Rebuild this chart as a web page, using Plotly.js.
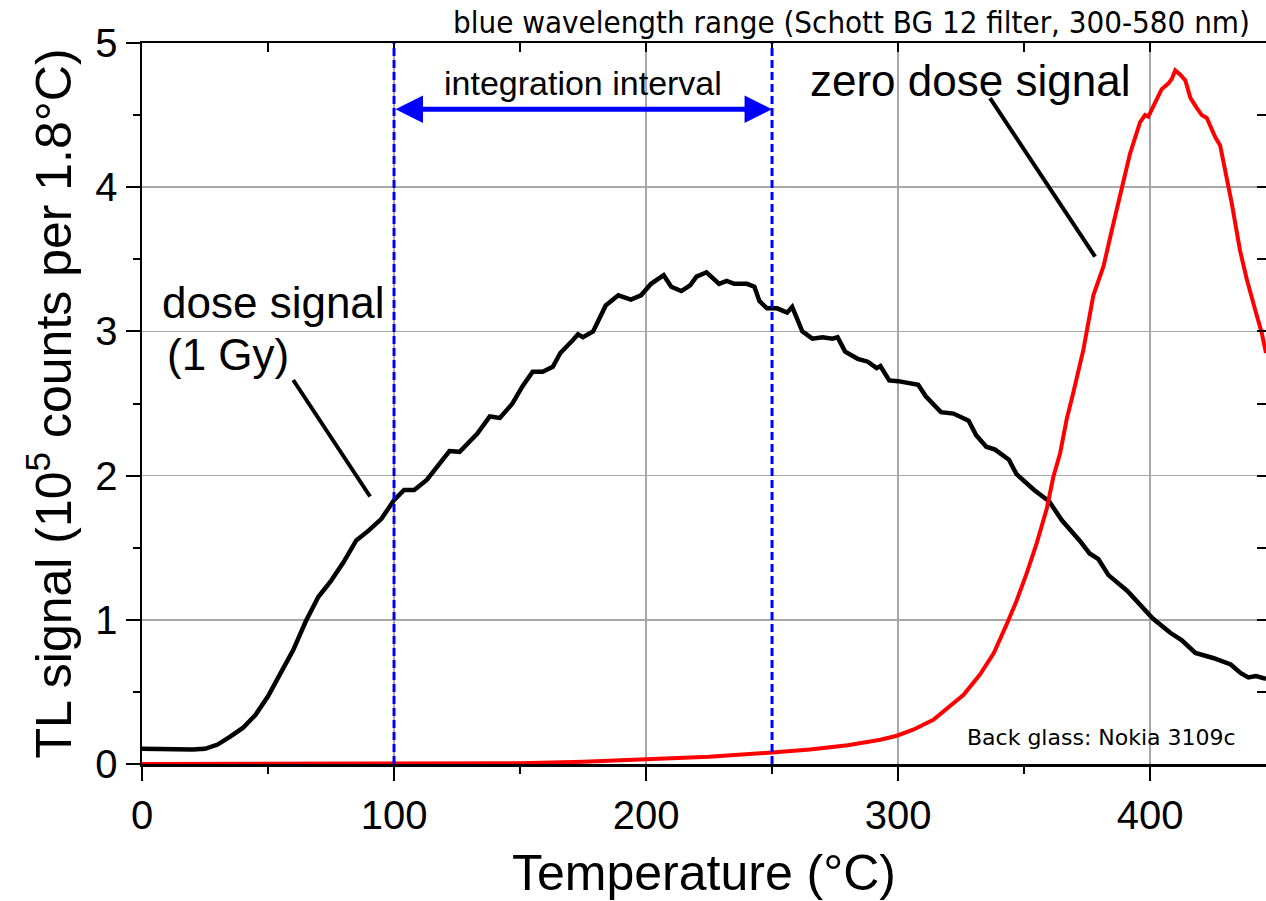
<!DOCTYPE html>
<html>
<head>
<meta charset="utf-8">
<script src="https://cdn.plot.ly/plotly-3.0.1.min.js"></script>
<style>
  html, body { margin: 0; padding: 0; background: #fff; }
  #chart { width: 1266px; height: 901px; }
</style>
</head>
<body>
<div id="chart"></div>
<script>
// Thermoluminescence glow curves, blue detection window
const doseTemp = [0, 5, 10, 15, 20, 25, 30, 35, 40, 45, 50, 55, 60, 65, 70, 75, 80, 85, 90, 95,
  100, 104, 108, 113, 118, 122, 126, 133, 138, 142, 147, 151, 155, 159, 163, 166, 171, 173, 175, 179,
  184, 189, 194, 198, 202, 207, 210, 214, 217.5, 220, 224, 226, 229, 232, 235, 240, 243, 245, 248, 252,
  256, 258, 260, 262, 266, 270, 274, 276, 279, 284, 288, 291.5, 293, 296.5, 300, 304, 308, 311, 317, 322,
  328, 331, 335, 338.5, 344, 347, 354, 360, 365, 372, 376, 379.5, 383.5, 391, 397, 401, 408, 412.5, 418, 425,
  432, 436, 439, 442, 446];
const doseSignal = [0.105, 0.103, 0.100, 0.100, 0.100, 0.105, 0.135, 0.19, 0.25, 0.34, 0.47, 0.63, 0.79, 0.99, 1.16, 1.27, 1.40, 1.55, 1.62, 1.70,
  1.83, 1.90, 1.90, 1.97, 2.08, 2.17, 2.165, 2.29, 2.41, 2.40, 2.50, 2.62, 2.72, 2.72, 2.755, 2.85, 2.94, 2.98, 2.96, 3.00,
  3.18, 3.25, 3.22, 3.25, 3.33, 3.39, 3.31, 3.28, 3.32, 3.38, 3.41, 3.38, 3.33, 3.35, 3.33, 3.33, 3.31, 3.21, 3.16, 3.16,
  3.13, 3.17, 3.09, 3.00, 2.95, 2.96, 2.95, 2.96, 2.86, 2.81, 2.79, 2.745, 2.76, 2.66, 2.655, 2.645, 2.63, 2.55, 2.44, 2.43,
  2.38, 2.28, 2.20, 2.18, 2.11, 2.01, 1.90, 1.82, 1.69, 1.55, 1.46, 1.42, 1.31, 1.20, 1.08, 1.01, 0.91, 0.86, 0.77, 0.735,
  0.69, 0.63, 0.60, 0.61, 0.59];

const zeroTemp = [0, 50, 100, 150, 175, 200, 225, 250, 265, 280, 293, 299.5, 306, 314, 319, 326, 332.5, 338, 343, 347,
  351, 355, 359, 361.6, 364.3, 366.9, 369.6, 373.5, 377.5, 381.5, 384.8, 388.8, 392, 396, 398, 399.3, 402, 404.6, 407.3, 408.6,
  410, 412, 414, 416, 418.5, 420.5, 422.5, 425.8, 427.8, 429.8, 432.4, 435.7, 438.4, 441.7, 444.3, 446];
const zeroSignal = [0, 0, 0.002, 0.006, 0.015, 0.03, 0.05, 0.08, 0.10, 0.13, 0.168, 0.196, 0.238, 0.307, 0.376, 0.48, 0.62, 0.77, 0.965, 1.13,
  1.32, 1.53, 1.77, 1.99, 2.155, 2.39, 2.58, 2.87, 3.25, 3.45, 3.70, 4.00, 4.23, 4.45, 4.50, 4.49, 4.58, 4.68, 4.72, 4.75,
  4.81, 4.78, 4.74, 4.62, 4.55, 4.50, 4.48, 4.35, 4.29, 4.12, 3.89, 3.56, 3.36, 3.15, 2.99, 2.85];

// integration interval limits (°C) and the height of its arrow
const intervalBounds = [100, 250];
const intervalArrowLevel = 4.54;

// label leader lines: [T start, signal start, T end, signal end]
const doseLeader = [60, 2.663, 90.5, 1.855];
const zeroLeader = [336.5, 4.617, 378.2, 3.518];

const xRange = [0, 446];
const yRange = [0, 5];

const sans = 'Liberation Sans, Arial, sans-serif';

const traces = [
  { x: doseTemp, y: doseSignal, mode: 'lines', line: { color: '#000000', width: 4.5 }, hoverinfo: 'x+y' },
  { x: zeroTemp, y: zeroSignal, mode: 'lines', line: { color: '#ff0000', width: 4 }, hoverinfo: 'x+y' },
  // carrier for the mirrored tick axes on the top and right
  { x: [], y: [], xaxis: 'x2', yaxis: 'y2', mode: 'lines', showlegend: false, hoverinfo: 'skip' }
];

const shapes = intervalBounds.map(t => ({
  type: 'line', xref: 'x', yref: 'y', x0: t, x1: t, y0: yRange[0], y1: yRange[1],
  line: { color: '#0000ff', width: 3, dash: '8px,4px' }, layer: 'above'
}));
[doseLeader, zeroLeader].forEach(l => shapes.push({
  type: 'line', xref: 'x', yref: 'y', x0: l[0], y0: l[1], x1: l[2], y1: l[3],
  line: { color: '#000000', width: 4 }, layer: 'above'
}));

const annotations = [
  { // double-headed arrow across the interval
    x: intervalBounds[1], y: intervalArrowLevel, ax: intervalBounds[0], ay: intervalArrowLevel,
    xref: 'x', yref: 'y', axref: 'x', ayref: 'y', text: '', showarrow: true,
    arrowside: 'end+start', arrowhead: 2, arrowsize: 1.1, arrowwidth: 5, arrowcolor: '#0000ff',
    standoff: 0, startstandoff: 0
  },
  { x: 175, y: 4.72, xref: 'x', yref: 'y', text: 'integration interval', showarrow: false,
    font: { family: sans, size: 34, color: '#000' } },
  { x: 328.6, y: 4.74, xref: 'x', yref: 'y', text: 'zero dose signal', showarrow: false,
    font: { family: sans, size: 44, color: '#000' } },
  { x: 7.1, y: 3.2, xref: 'x', yref: 'y', xanchor: 'left', text: 'dose signal', showarrow: false,
    font: { family: sans, size: 44, color: '#000' } },
  { x: 9.1, y: 2.84, xref: 'x', yref: 'y', xanchor: 'left', text: '(1 Gy)', showarrow: false,
    font: { family: sans, size: 44, color: '#000' } },
  { x: 0.9875, y: 1.0287, xref: 'paper', yref: 'paper', xanchor: 'right', yanchor: 'middle',
    text: 'blue wavelength range (Schott BG 12 filter, 300-580 nm)', showarrow: false,
    font: { family: 'DejaVu Sans Condensed, DejaVu Sans, sans-serif', size: 31, color: '#000' } },
  { x: 0.975, y: 0.037, xref: 'paper', yref: 'paper', xanchor: 'right', yanchor: 'middle',
    text: 'Back glass: Nokia 3109c', showarrow: false,
    font: { family: 'DejaVu Sans, Verdana, sans-serif', size: 22, color: '#000' } }
];

const layout = {
  width: 1266, height: 901,
  margin: { l: 142, r: 0, t: 43, b: 137 },
  paper_bgcolor: '#ffffff', plot_bgcolor: '#ffffff',
  showlegend: false,
  font: { family: sans, color: '#000' },
  xaxis: {
    range: xRange, dtick: 100, tick0: 0,
    ticks: 'outside', ticklen: 14, tickwidth: 2, tickcolor: '#000',
    showline: true, linecolor: '#000', linewidth: 2.5, mirror: true,
    showgrid: true, gridcolor: '#a8a8a8', gridwidth: 1.5, zeroline: false,
    tickfont: { family: sans, size: 40, color: '#000' },
    minor: { ticks: 'outside', ticklen: 7, tickwidth: 2, tickcolor: '#000', dtick: 50, showgrid: false },
    title: { text: 'Temperature (°C)', font: { family: sans, size: 50, color: '#000' }, standoff: 20 },
    layer: 'below traces'
  },
  yaxis: {
    range: yRange, dtick: 1, tick0: 0,
    ticks: 'outside', ticklen: 14, tickwidth: 2, tickcolor: '#000',
    showline: true, linecolor: '#000', linewidth: 2.5, mirror: true,
    showgrid: true, gridcolor: '#a8a8a8', gridwidth: 1.5, zeroline: false,
    tickfont: { family: sans, size: 40, color: '#000' },
    minor: { ticks: 'outside', ticklen: 7, tickwidth: 2, tickcolor: '#000', dtick: 0.5, showgrid: false },
    title: { text: 'TL signal (10<sup>5</sup> counts per 1.8°C)', font: { family: sans, size: 50, color: '#000' }, standoff: 8 },
    layer: 'below traces'
  },
  xaxis2: {
    overlaying: 'x', side: 'top', anchor: 'y', range: xRange, dtick: 50, tick0: 0,
    ticks: 'inside', ticklen: 9, tickwidth: 2, tickcolor: '#000',
    showticklabels: false, showgrid: false, showline: false, zeroline: false
  },
  yaxis2: {
    overlaying: 'y', side: 'right', anchor: 'x', range: yRange, dtick: 0.5, tick0: 0,
    ticks: 'inside', ticklen: 9, tickwidth: 2, tickcolor: '#000',
    showticklabels: false, showgrid: false, showline: false, zeroline: false
  },
  shapes: shapes,
  annotations: annotations
};

Plotly.newPlot('chart', traces, layout, { displayModeBar: false, staticPlot: true });
</script>
</body>
</html>
